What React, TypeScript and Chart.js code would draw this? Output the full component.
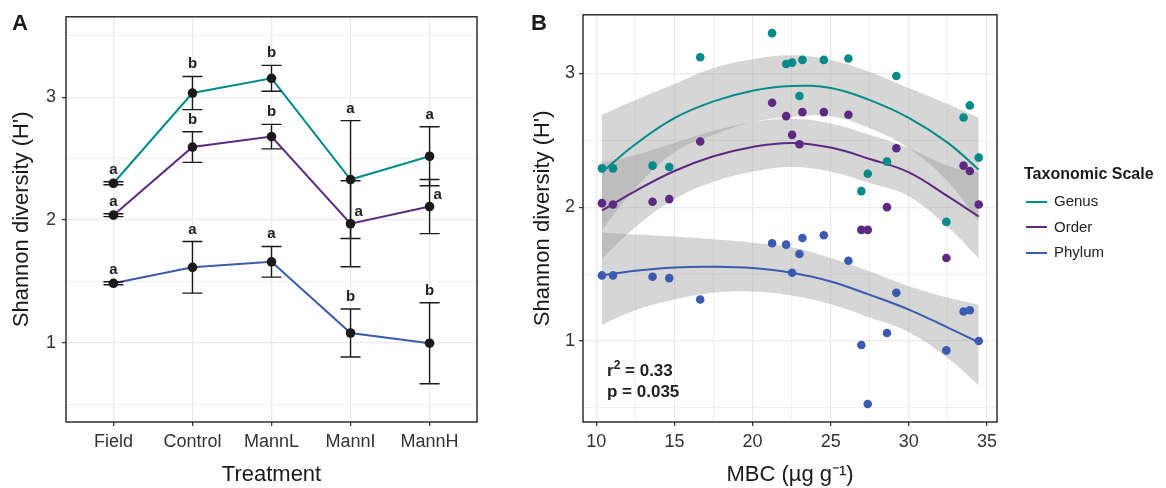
import React, { useEffect, useRef } from 'react';
import { Chart, registerables } from 'chart.js';
Chart.register(...registerables);

const FONT = '"Liberation Sans", Arial, Helvetica, sans-serif';
const TEAL = '#008b8a';
const PURPLE = '#5d2a82';
const BLUE = '#3a5bb0';
const BAND = 'rgba(153,153,153,0.4)';
const GRID = '#ebebeb';
const INK = '#1a1a1a';
const TICK_TEXT = '#333333';

// ---------- Panel A data ----------
const treatments = ['Field', 'Control', 'MannL', 'MannI', 'MannH'];
const genusMean = [2.3, 3.035, 3.155, 2.33, 2.52];
const genusSE = [0.012, 0.135, 0.105, 0.48, 0.24];
const genusLetters = ['a', 'b', 'b', 'a', 'a'];
const orderMean = [2.04, 2.595, 2.68, 1.97, 2.11];
const orderSE = [0.012, 0.125, 0.1, 0.35, 0.22];
const orderLetters = ['a', 'b', 'b', 'a', 'a'];
const orderLetterSide = ['above', 'above', 'above', 'right', 'right'];
const phylumMean = [1.485, 1.615, 1.66, 1.08, 0.997];
const phylumSE = [0.012, 0.21, 0.125, 0.195, 0.33];
const phylumLetters = ['a', 'a', 'a', 'b', 'b'];

// ---------- Panel B data ----------
const mbc = [10.36, 11.07, 13.6, 14.67, 16.65, 21.25, 22.15, 22.53, 23.0, 23.19, 24.56, 26.13, 26.96, 27.37, 28.6, 29.2, 32.4, 33.5, 33.9, 34.47];
const genusH = [2.29, 2.29, 2.31, 2.3, 3.12, 3.3, 3.07, 3.08, 2.83, 3.1, 3.1, 3.11, 2.12, 2.25, 2.34, 2.98, 1.89, 2.67, 2.76, 2.37];
const orderH = [2.03, 2.02, 2.04, 2.06, 2.49, 2.78, 2.68, 2.54, 2.47, 2.71, 2.71, 2.69, 1.83, 1.83, 2.0, 2.44, 1.62, 2.31, 2.27, 2.02];
const phylumH = [1.49, 1.49, 1.48, 1.47, 1.31, 1.73, 1.72, 1.51, 1.65, 1.77, 1.79, 1.6, 0.97, 0.53, 1.06, 1.36, 0.93, 1.22, 1.23, 1.0];

const fitMBC = [10.36, 12.5, 15, 17.5, 20, 22.5, 25, 27.5, 30, 32.5, 34.47];
const genusFit = [2.26, 2.47, 2.665, 2.79, 2.87, 2.905, 2.89, 2.8, 2.667, 2.48, 2.28];
const genusUpper = [2.69, 2.8, 2.92, 3.04, 3.105, 3.135, 3.1, 3.01, 2.89, 2.77, 2.667];
const genusLower = [1.83, 2.14, 2.41, 2.54, 2.635, 2.675, 2.68, 2.59, 2.44, 2.19, 1.89];
const orderFit = [1.975, 2.12, 2.27, 2.38, 2.45, 2.48, 2.445, 2.36, 2.26, 2.08, 1.93];
const orderUpper = [2.335, 2.39, 2.48, 2.57, 2.635, 2.66, 2.625, 2.54, 2.44, 2.31, 2.26];
const orderLower = [1.615, 1.85, 2.06, 2.19, 2.265, 2.3, 2.265, 2.18, 2.08, 1.85, 1.62];
const phylumFit = [1.49, 1.525, 1.55, 1.555, 1.545, 1.51, 1.445, 1.345, 1.235, 1.1, 0.99];
const phylumUpper = [1.81, 1.795, 1.78, 1.76, 1.735, 1.7, 1.62, 1.52, 1.41, 1.325, 1.27];
const phylumLower = [1.12, 1.23, 1.31, 1.36, 1.37, 1.34, 1.275, 1.175, 1.065, 0.87, 0.67];

const xy = (xs: number[], ys: number[]) => xs.map((x, i) => ({ x, y: ys[i] }));

const isMajor = (v: number | undefined) => v !== undefined && Math.abs(v - Math.round(v)) < 1e-6;

function gridOpts(major: (v: number) => boolean) {
  return {
    color: GRID,
    lineWidth: (c: any) => (c.tick && major(c.tick.value) ? 1.3 : 0.7),
    tickColor: (c: any) => (c.tick && major(c.tick.value) ? '#333333' : 'rgba(0,0,0,0)'),
    tickLength: 4,
    tickWidth: 1.2,
    drawTicks: true,
  };
}

const framePlugin = {
  id: 'frame',
  afterDraw(chart: any) {
    const { ctx, chartArea: a } = chart;
    ctx.save();
    ctx.strokeStyle = '#222222';
    ctx.lineWidth = 1.4;
    ctx.strokeRect(a.left, a.top, a.right - a.left, a.bottom - a.top);
    ctx.restore();
  },
};

const seriesA = [
  { mean: genusMean, se: genusSE, letters: genusLetters, side: ['above', 'above', 'above', 'above', 'above'] },
  { mean: orderMean, se: orderSE, letters: orderLetters, side: orderLetterSide },
  { mean: phylumMean, se: phylumSE, letters: phylumLetters, side: ['above', 'above', 'above', 'above', 'above'] },
];

const errorBarPlugin = {
  id: 'errbars',
  afterDatasetsDraw(chart: any) {
    const { ctx } = chart;
    const x = chart.scales.x;
    const y = chart.scales.y;
    ctx.save();
    ctx.strokeStyle = INK;
    ctx.lineWidth = 1.4;
    seriesA.forEach((s) => {
      s.mean.forEach((m, i) => {
        const px = x.getPixelForValue(i);
        const top = y.getPixelForValue(m + s.se[i]);
        const bot = y.getPixelForValue(m - s.se[i]);
        ctx.beginPath();
        ctx.moveTo(px, top);
        ctx.lineTo(px, bot);
        ctx.moveTo(px - 10, top);
        ctx.lineTo(px + 10, top);
        ctx.moveTo(px - 10, bot);
        ctx.lineTo(px + 10, bot);
        ctx.stroke();
      });
    });
    ctx.fillStyle = '#222222';
    ctx.font = `bold 15px ${FONT}`;
    ctx.textBaseline = 'alphabetic';
    seriesA.forEach((s) => {
      s.mean.forEach((m, i) => {
        const px = x.getPixelForValue(i);
        if (s.side[i] === 'right') {
          ctx.textAlign = 'left';
          ctx.fillText(s.letters[i], px + 4, y.getPixelForValue(m) - 8);
        } else {
          ctx.textAlign = 'center';
          ctx.fillText(s.letters[i], px, y.getPixelForValue(m + s.se[i]) - 8);
        }
      });
    });
    ctx.restore();
  },
};

const tickFont = { family: FONT, size: 18 };
const titleFont = { family: FONT, size: 22 };

function PanelA() {
  const ref = useRef<HTMLCanvasElement>(null);
  useEffect(() => {
    const mk = (vals: number[], color: string) => ({
      data: vals.map((v, i) => ({ x: i, y: v })),
      borderColor: color,
      borderWidth: 2,
      pointRadius: 4.8,
      pointBackgroundColor: INK,
      pointBorderWidth: 0,
      tension: 0,
      fill: false,
    });
    const chart = new Chart(ref.current as HTMLCanvasElement, {
      type: 'line',
      data: { datasets: [mk(genusMean, TEAL), mk(orderMean, PURPLE), mk(phylumMean, BLUE)] as any },
      options: {
        responsive: false,
        animation: false,
        events: [],
        layout: { padding: { top: 11, right: 23, left: 0, bottom: 0 } },
        plugins: { legend: { display: false }, tooltip: { enabled: false } },
        scales: {
          x: {
            type: 'linear',
            min: -0.6,
            max: 4.6,
            afterFit: (s: any) => { s.height = 66; },
            border: { display: false },
            grid: gridOpts(() => true) as any,
            ticks: {
              stepSize: 1,
              includeBounds: false,
              autoSkip: false,
              maxRotation: 0,
              padding: 5,
              color: TICK_TEXT,
              font: tickFont,
              callback: (v: any) => treatments[Math.round(v)] ?? '',
            },
            title: { display: true, text: 'Treatment', color: INK, font: titleFont, padding: { top: 0, bottom: 0 } },
          },
          y: {
            type: 'linear',
            min: 0.355,
            max: 3.656,
            afterFit: (s: any) => { s.width = 66; },
            border: { display: false },
            grid: gridOpts((v) => isMajor(v)) as any,
            ticks: {
              stepSize: 0.5,
              includeBounds: false,
              autoSkip: false,
              padding: 6,
              color: TICK_TEXT,
              font: tickFont,
              callback: (v: any) => (isMajor(v) ? String(Math.round(v)) : ''),
            },
            title: { display: true, text: "Shannon diversity (H')", color: INK, font: titleFont, padding: { top: 9, bottom: 0 } },
          },
        },
      } as any,
      plugins: [errorBarPlugin, framePlugin],
    });
    return () => chart.destroy();
  }, []);
  return <canvas ref={ref} width={500} height={488} style={{ position: 'absolute', left: 0, top: 0, width: 500, height: 488 }} />;
}

function PanelB() {
  const ref = useRef<HTMLCanvasElement>(null);
  useEffect(() => {
    const band = (up: number[], lo: number[]) => [
      { data: xy(fitMBC, up), borderWidth: 0, borderColor: 'rgba(0,0,0,0)', pointRadius: 0, tension: 0.4, fill: false, order: 5 },
      { data: xy(fitMBC, lo), borderWidth: 0, borderColor: 'rgba(0,0,0,0)', pointRadius: 0, tension: 0.4, fill: '-1', backgroundColor: BAND, order: 5 },
    ];
    const fit = (vals: number[], color: string) => ({
      data: xy(fitMBC, vals), borderColor: color, borderWidth: 2, pointRadius: 0, tension: 0.4, fill: false, order: 2,
    });
    const pts = (vals: number[], color: string) => ({
      data: xy(mbc, vals), showLine: false, pointRadius: 4.3, pointBackgroundColor: color, pointBorderWidth: 0, borderColor: color, fill: false, order: 1,
    });
    const chart = new Chart(ref.current as HTMLCanvasElement, {
      type: 'line',
      data: {
        datasets: [
          ...band(genusUpper, genusLower),
          ...band(orderUpper, orderLower),
          ...band(phylumUpper, phylumLower),
          fit(genusFit, TEAL),
          fit(orderFit, PURPLE),
          fit(phylumFit, BLUE),
          pts(genusH, TEAL),
          pts(orderH, PURPLE),
          pts(phylumH, BLUE),
        ] as any,
      },
      options: {
        responsive: false,
        animation: false,
        events: [],
        layout: { padding: { top: 11, right: 169, left: 0, bottom: 0 } },
        plugins: { legend: { display: false }, tooltip: { enabled: false }, filler: { propagate: false } },
        scales: {
          x: {
            type: 'linear',
            min: 9.15,
            max: 35.64,
            afterFit: (s: any) => { s.height = 66; },
            border: { display: false },
            grid: gridOpts((v) => Math.abs(v / 5 - Math.round(v / 5)) < 1e-6) as any,
            ticks: {
              stepSize: 2.5,
              includeBounds: false,
              autoSkip: false,
              maxRotation: 0,
              padding: 5,
              color: TICK_TEXT,
              font: tickFont,
              callback: (v: any) => (Math.abs(v / 5 - Math.round(v / 5)) < 1e-6 ? String(Math.round(v)) : ''),
            },
            title: { display: true, text: 'MBC (\u00B5g g\u207B\u00B9)', color: INK, font: titleFont, padding: { top: 0, bottom: 0 } },
          },
          y: {
            type: 'linear',
            min: 0.395,
            max: 3.437,
            afterFit: (s: any) => { s.width = 83; },
            border: { display: false },
            grid: gridOpts((v) => isMajor(v)) as any,
            ticks: {
              stepSize: 0.5,
              includeBounds: false,
              autoSkip: false,
              padding: 4,
              color: TICK_TEXT,
              font: tickFont,
              callback: (v: any) => (isMajor(v) ? String(Math.round(v)) : ''),
            },
            title: { display: true, text: "Shannon diversity (H')", color: INK, font: titleFont, padding: { top: 30, bottom: 0 } },
          },
        },
      } as any,
      plugins: [framePlugin],
    });
    return () => chart.destroy();
  }, []);
  return <canvas ref={ref} width={666} height={488} style={{ position: 'absolute', left: 500, top: 0, width: 666, height: 488 }} />;
}

const legendItems = [
  { label: 'Genus', color: TEAL },
  { label: 'Order', color: PURPLE },
  { label: 'Phylum', color: BLUE },
];

export default function App() {
  return (
    <div style={{ position: 'fixed', left: 0, top: 0, width: 1166, height: 488, background: '#ffffff', fontFamily: FONT, color: INK, overflow: 'hidden' }}>
      <PanelA />
      <PanelB />
      <div style={{ position: 'absolute', left: 12, top: 12.4, fontSize: 22, lineHeight: '22px', fontWeight: 'bold' }}>A</div>
      <div style={{ position: 'absolute', left: 531, top: 12.4, fontSize: 22, lineHeight: '22px', fontWeight: 'bold' }}>B</div>
      <div style={{ position: 'absolute', left: 607, top: 359.8, fontSize: 17, lineHeight: '22px', fontWeight: 'bold', color: '#222' }}>
        r<span style={{ fontSize: 12, verticalAlign: 'super', lineHeight: 0 }}>2</span> = 0.33
      </div>
      <div style={{ position: 'absolute', left: 607, top: 381.1, fontSize: 17, lineHeight: '22px', fontWeight: 'bold', color: '#222' }}>p = 0.035</div>
      <div style={{ position: 'absolute', left: 1024, top: 165.5, fontSize: 16, lineHeight: '16px', fontWeight: 'bold', whiteSpace: 'nowrap' }}>Taxonomic Scale</div>
      {legendItems.map((it, i) => (
        <React.Fragment key={it.label}>
          <div style={{ position: 'absolute', left: 1026, top: 200.5 + i * 25.8, width: 21, height: 2, background: it.color }} />
          <div style={{ position: 'absolute', left: 1054, top: 192.7 + i * 25.8, fontSize: 15, lineHeight: '15px', color: '#222', whiteSpace: 'nowrap' }}>{it.label}</div>
        </React.Fragment>
      ))}
    </div>
  );
}
